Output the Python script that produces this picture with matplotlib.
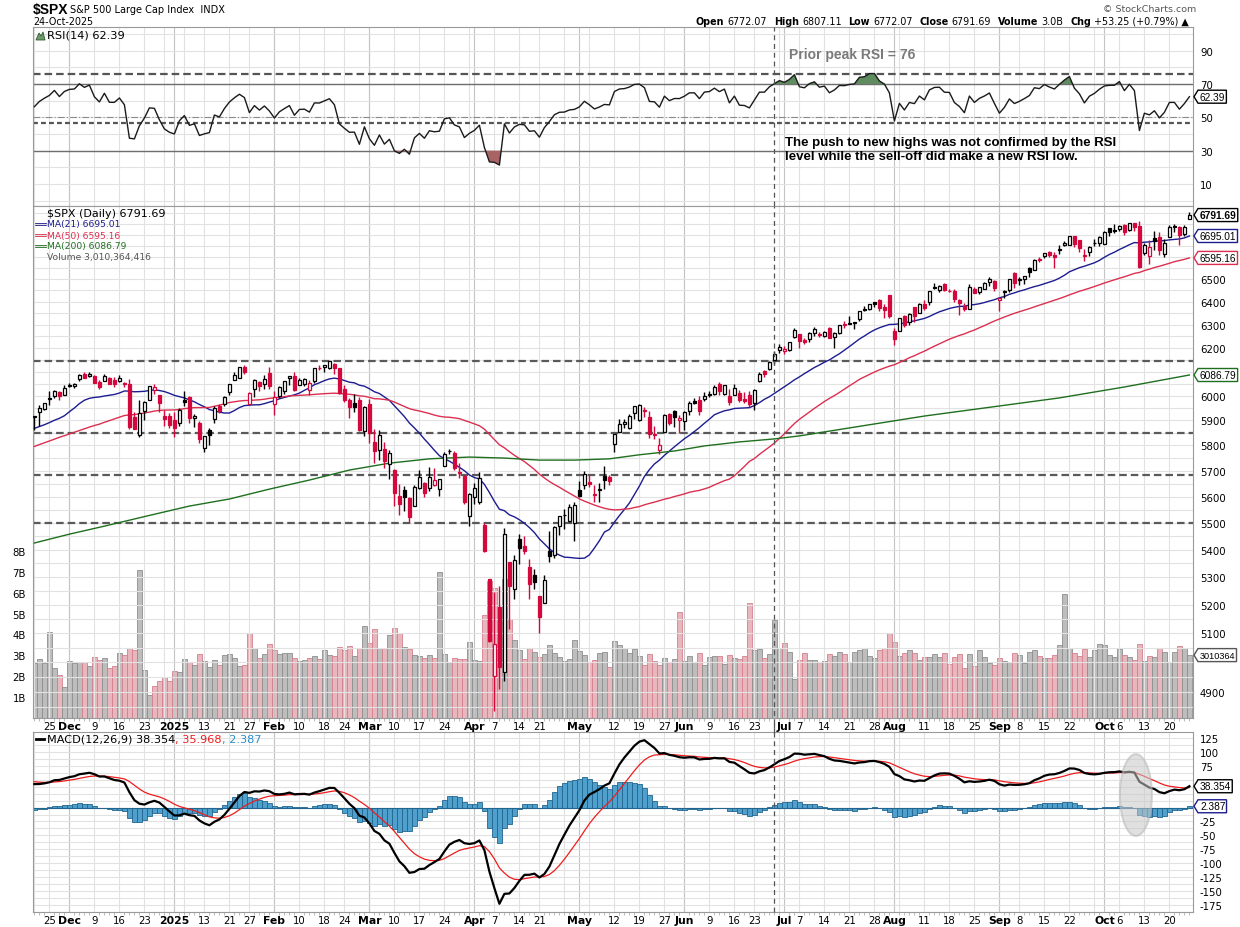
import numpy as np
import pandas as pd
import matplotlib
matplotlib.use('Agg')
import matplotlib.pyplot as plt
from matplotlib.patches import Polygon, Ellipse, Rectangle
from matplotlib.lines import Line2D
from matplotlib.transforms import IdentityTransform
from matplotlib.ticker import FixedLocator, NullFormatter, NullLocator, FuncFormatter

# --- data: $SPX daily, 20-Nov-2024 .. 24-Oct-2025 ---
holidays = ['2024-11-28', '2024-12-25', '2025-01-01', '2025-01-09', '2025-01-20', '2025-02-17',
            '2025-04-18', '2025-05-26', '2025-06-19', '2025-07-04', '2025-09-01']
dates = pd.bdate_range('2024-11-20', '2025-10-24', freq='C', holidays=holidays)

opens = [
    5914, 5935, 5945, 5992, 6000, 6015, 6003,  # nov
    6040, 6042, 6069, 6089, 6082, 6083, 6058, 6060, 6074, 6068, 6063, 6052, 6048, 5913, 5843,
    5940, 5984, 6025, 6006, 5920, 5920,  # dec
    5904, 5891, 5982, 5994, 5910, 5890, 5789, 5860, 5905, 5958, 5969, 6015, 6068, 6076, 6121,
    5969, 6027, 6058, 6050, 6096,  # jan
    5969, 5998, 6021, 6073, 6083, 6047, 6050, 6026, 6061, 6115, 6121, 6118, 6134, 6114, 6027,
    5983, 5971, 5982, 5857,  # feb
    5968, 5812, 5781, 5785, 5726, 5705, 5603, 5624, 5594, 5563, 5635, 5654, 5633, 5646, 5631,
    5718, 5776, 5772, 5696, 5679, 5527,  # mar
    5598, 5581, 5492, 5292, 4953, 5194, 4966, 5353, 5255, 5441, 5412, 5335, 5306, 5232, 5207,
    5395, 5381, 5489, 5529, 5508, 5499,  # apr
    5626, 5645, 5656, 5606, 5626, 5680, 5675, 5807, 5854, 5887, 5869, 5929, 5902, 5944, 5915,
    5841, 5781, 5855, 5925, 5939, 5903,  # may
    5897, 5938, 5978, 5985, 5987, 6005, 6009, 6049, 6010, 6000, 6005, 6012, 5986, 6004, 5970,
    6061, 6104, 6112, 6151, 6193,  # jun
    6187, 6192, 6246, 6260, 6234, 6237, 6266, 6256, 6251, 6288, 6249, 6264, 6305, 6304, 6307,
    6325, 6369, 6370, 6397, 6409, 6375, 6428,  # jul
    6271, 6272, 6337, 6310, 6375, 6353, 6389, 6397, 6460, 6452, 6478, 6446, 6447, 6407, 6381,
    6370, 6458, 6441, 6457, 6487, 6493,  # aug
    6407, 6443, 6451, 6527, 6499, 6500, 6550, 6543, 6590, 6603, 6623, 6609, 6636, 6654, 6652,
    6694, 6675, 6606, 6622, 6662, 6662,  # sep
    6660, 6731, 6722, 6729, 6745, 6723, 6753, 6739, 6619, 6605, 6685, 6689, 6613, 6690, 6736,
    6736, 6703, 6772.07,  # oct
]
highs = [
    5920, 5964, 5973, 6021, 6025, 6020, 6044,
    6053, 6052, 6089, 6100, 6099, 6088, 6065, 6092, 6079, 6078, 6085, 6058, 6071, 5936, 5982,
    5979, 6040, 6050, 6006, 5941, 5929,
    5935, 5950, 6022, 6001, 5928, 5899, 5837, 5871, 5960, 5965, 6001, 6051, 6100, 6118, 6128,
    6018, 6070, 6062, 6086, 6120,
    6022, 6042, 6062, 6084, 6101, 6073, 6076, 6064, 6116, 6127, 6129, 6147, 6135, 6115, 6044,
    5993, 6010, 5994, 5959,
    5987, 5866, 5860, 5812, 5783, 5706, 5649, 5642, 5597, 5645, 5704, 5655, 5716, 5711, 5670,
    5775, 5787, 5777, 5732, 5685, 5615,
    5651, 5696, 5500, 5292, 5246, 5267, 5481, 5353, 5381, 5460, 5450, 5367, 5328, 5232, 5309,
    5469, 5489, 5528, 5554, 5571, 5581,
    5659, 5700, 5683, 5643, 5654, 5720, 5684, 5845, 5906, 5906, 5925, 5959, 5969, 5954, 5939,
    5878, 5829, 5925, 5930, 5944, 5923,
    5938, 5981, 5990, 5999, 6017, 6021, 6044, 6059, 6045, 6027, 6050, 6023, 6018, 6019, 6028,
    6101, 6108, 6146, 6187, 6216,
    6211, 6228, 6285, 6262, 6242, 6268, 6290, 6269, 6271, 6292, 6270, 6300, 6315, 6336, 6310,
    6360, 6381, 6390, 6401, 6410, 6392, 6428,
    6288, 6330, 6344, 6350, 6379, 6396, 6406, 6447, 6481, 6474, 6481, 6458, 6457, 6410, 6393,
    6478, 6466, 6466, 6487, 6508, 6495,
    6420, 6450, 6502, 6533, 6508, 6513, 6555, 6590, 6600, 6619, 6626, 6623, 6656, 6672, 6695,
    6697, 6676, 6634, 6650, 6679, 6693,
    6718, 6733, 6750, 6745, 6749, 6753, 6756, 6765, 6664, 6677, 6720, 6714, 6680, 6744, 6752,
    6741, 6746, 6807.11,
]
lows = [
    5860, 5878, 5942, 5964, 5992, 5984, 6003,
    6035, 6033, 6062, 6075, 6080, 6053, 6028, 6060, 6051, 6035, 6059, 6036, 5867, 5866, 5833,
    5902, 5982, 6007, 5933, 5879, 5869,
    5834, 5877, 5960, 5890, 5874, 5809, 5773, 5802, 5890, 5931, 5960, 6006, 6064, 6074, 6089,
    5962, 5994, 6019, 6028, 6030,
    5923, 5991, 6007, 6044, 6020, 6045, 6042, 6003, 6054, 6107, 6100, 6112, 6089, 6008, 5977,
    5909, 5933, 5858, 5837,
    5810, 5732, 5743, 5711, 5667, 5565, 5529, 5547, 5505, 5563, 5629, 5597, 5622, 5640, 5603,
    5718, 5765, 5703, 5671, 5573, 5489,
    5572, 5573, 5391, 5069, 4835, 4910, 4937, 5116, 5221, 5349, 5386, 5221, 5255, 5101, 5207,
    5356, 5371, 5455, 5478, 5505, 5434,
    5597, 5629, 5639, 5578, 5579, 5628, 5644, 5773, 5853, 5868, 5867, 5907, 5896, 5915, 5830,
    5825, 5768, 5855, 5880, 5873, 5849,
    5861, 5921, 5967, 5921, 5978, 5994, 6004, 6002, 6004, 5963, 6005, 5977, 5971, 5953, 5943,
    6058, 6080, 6107, 6133, 6178,
    6174, 6187, 6241, 6202, 6217, 6225, 6253, 6246, 6246, 6243, 6201, 6261, 6286, 6303, 6282,
    6318, 6360, 6364, 6378, 6361, 6331, 6328,
    6212, 6272, 6289, 6301, 6313, 6349, 6364, 6387, 6457, 6442, 6447, 6441, 6401, 6343, 6361,
    6368, 6438, 6433, 6456, 6470, 6447,
    6360, 6417, 6444, 6460, 6475, 6480, 6510, 6539, 6577, 6597, 6598, 6552, 6614, 6649, 6652,
    6643, 6621, 6583, 6602, 6647, 6651,
    6657, 6693, 6708, 6717, 6700, 6716, 6716, 6551, 6610, 6569, 6632, 6607, 6599, 6690, 6714,
    6653, 6695, 6772.07,
]
closes = [
    5917.1, 5948.7, 5969.3, 5987.4, 6021.6, 5998.7, 6032.4,
    6047.2, 6049.9, 6086.5, 6075.1, 6090.3, 6052.9, 6034.9, 6084.2, 6051.3, 6051.1, 6074.1,
    6050.6, 5872.2, 5867.1, 5930.9, 5974.1, 6040.0, 6037.6, 5970.8, 5906.9, 5881.6,
    5868.6, 5942.5, 5975.4, 5909.0, 5918.3, 5827.0, 5836.2, 5842.9, 5949.9, 5937.3, 5996.7,
    6049.2, 6086.4, 6118.7, 6101.2, 6012.3, 6067.7, 6039.3, 6071.2, 6040.5,
    5994.6, 6037.9, 6061.5, 6083.6, 6026.0, 6066.4, 6068.5, 6052.0, 6115.1, 6114.6, 6129.6,
    6144.2, 6117.5, 6013.1, 5983.3, 5955.3, 5956.1, 5861.6, 5954.5,
    5849.7, 5778.2, 5842.6, 5738.5, 5770.2, 5614.6, 5572.1, 5599.3, 5521.5, 5638.9, 5675.1,
    5614.7, 5675.3, 5662.9, 5667.6, 5767.6, 5776.7, 5712.2, 5693.3, 5580.9, 5611.9,
    5633.1, 5671.0, 5396.5, 5074.1, 5062.3, 4982.8, 5456.9, 5268.1, 5363.4, 5406.0, 5396.6,
    5275.7, 5282.7, 5158.2, 5287.8, 5375.9, 5484.8, 5525.2, 5528.8, 5560.8, 5569.1,
    5604.1, 5686.7, 5650.4, 5606.9, 5631.3, 5663.9, 5659.9, 5844.2, 5886.6, 5892.6, 5916.9,
    5958.4, 5963.6, 5940.5, 5844.6, 5842.0, 5802.8, 5921.5, 5888.6, 5912.2, 5911.7,
    5935.9, 5970.4, 5970.8, 5939.3, 6000.4, 6005.9, 6038.8, 6022.2, 6045.3, 5977.0, 6033.1,
    5982.7, 5980.9, 5967.8, 6025.2, 6092.2, 6092.16, 6141.0, 6173.1, 6205.0,
    6198.0, 6227.4, 6279.4, 6230.0, 6225.5, 6263.3, 6280.5, 6259.8, 6268.6, 6243.8, 6263.7,
    6297.4, 6296.8, 6305.6, 6309.6, 6358.9, 6363.4, 6388.6, 6389.8, 6370.9, 6362.9, 6339.4,
    6238.0, 6329.9, 6299.2, 6345.1, 6340.0, 6389.5, 6373.5, 6445.8, 6466.6, 6468.5, 6449.8,
    6449.2, 6411.4, 6395.8, 6370.2, 6466.9, 6439.3, 6465.9, 6481.4, 6501.9, 6460.3,
    6415.5, 6448.3, 6502.1, 6481.5, 6495.2, 6512.6, 6532.0, 6587.5, 6584.3, 6615.3, 6606.8,
    6600.4, 6632.0, 6664.4, 6693.8, 6656.9, 6638.0, 6604.7, 6643.7, 6661.2, 6688.5,
    6711.2, 6715.4, 6715.8, 6740.3, 6714.6, 6753.7, 6735.1, 6552.5, 6654.7, 6644.3, 6671.1,
    6629.1, 6664.0, 6735.1, 6735.35, 6699.4, 6738.4, 6791.69,
]
# volume, billions of shares
volumes = [
    2.63, 2.82, 2.63, 4.11, 2.37, 2.08, 1.47,
    2.71, 2.63, 2.66, 2.66, 2.47, 2.92, 2.76, 2.87, 2.37, 2.47, 3.10, 3.00, 3.35, 3.24, 7.06,
    2.32, 1.11, 1.52, 1.79, 1.95, 1.79,
    2.23, 2.18, 2.82, 2.66, 2.52, 3.05, 2.71, 2.42, 2.76, 2.52, 3.00, 3.05, 2.87, 2.47, 2.53,
    4.06, 3.34, 2.87, 3.05, 3.53,
    3.26, 3.05, 3.10, 3.10, 2.87, 2.71, 2.76, 2.87, 2.97, 2.82, 3.26, 3.00, 2.97, 3.40, 3.26,
    3.45, 2.97, 3.35, 4.40,
    3.60, 4.27, 3.35, 3.35, 3.98, 4.32, 4.06, 3.40, 3.31, 3.00, 2.97, 2.87, 3.00, 2.87, 6.98,
    3.05, 2.66, 2.87, 2.82, 2.82, 3.63,
    2.76, 2.71, 4.94, 6.55, 6.20, 5.30, 6.65, 4.75, 3.74, 3.24, 2.82, 3.35, 3.15, 2.90, 3.05,
    3.48, 3.10, 2.94, 2.74, 2.82, 3.74,
    3.19, 3.00, 2.66, 2.76, 3.10, 3.15, 2.44, 3.68, 3.50, 3.34, 3.13, 3.30, 2.98, 2.53, 3.08,
    2.73, 2.53, 2.89, 2.66, 2.82, 5.08,
    2.74, 2.98, 2.69, 3.13, 2.53, 2.90, 2.98, 2.98, 2.60, 3.02, 2.89, 2.82, 2.98, 5.50, 3.24,
    3.29, 2.89, 3.05, 4.68, 3.34,
    3.58, 3.15, 1.89, 2.76, 3.13, 2.79, 2.79, 2.69, 2.73, 3.08, 2.98, 3.18, 3.08, 2.69, 3.15,
    3.24, 3.34, 2.98, 2.85, 3.23, 3.34, 4.05,
    3.63, 2.98, 3.13, 3.27, 3.13, 2.79, 2.90, 2.90, 3.08, 2.94, 3.13, 2.60, 2.94, 3.05, 2.40,
    3.05, 2.50, 3.23, 2.94, 2.61, 2.53,
    2.85, 2.74, 2.69, 3.13, 3.03, 2.65, 3.18, 3.23, 2.98, 2.89, 2.89, 3.03, 3.47, 5.95, 3.34,
    3.13, 2.98, 3.29, 2.90, 3.24, 3.53,
    3.47, 3.03, 2.90, 3.29, 3.03, 2.90, 2.79, 3.53, 2.74, 2.98, 2.94, 3.34, 3.15, 2.69, 3.15,
    3.44, 3.34, 3.01,
]
# closes from 3-Sep-2024 to 19-Nov-2024, only used to warm up MA/RSI/MACD
closes_prior = [
    5528.9, 5520.1, 5503.4, 5408.4, 5471.1, 5495.5, 5554.1, 5595.8, 5626.0, 5633.1, 5634.6,
    5618.3, 5713.6, 5702.6, 5718.6, 5732.9, 5722.3, 5745.4, 5738.2, 5762.5,
    5708.8, 5709.5, 5699.9, 5751.1, 5695.9, 5751.1, 5792.0, 5780.1, 5815.0, 5859.9, 5815.3,
    5842.5, 5841.5, 5864.7, 5854.0, 5851.2, 5797.4, 5809.9, 5808.1, 5823.5, 5832.9, 5813.7,
    5705.5,
    5728.8, 5712.7, 5782.8, 5929.0, 5973.1, 5995.5, 6001.4, 5984.0, 5985.4, 5949.2, 5870.6,
    5893.6, 5917.0,
]
# 200-day MA
ma200_dates = ['2024-11-20', '2024-12-02', '2024-12-11', '2024-12-23', '2025-01-07', '2025-01-21',
               '2025-01-31', '2025-02-12', '2025-02-25', '2025-03-07', '2025-03-19', '2025-03-31',
               '2025-04-09', '2025-04-21', '2025-04-30', '2025-05-09', '2025-05-19', '2025-05-29',
               '2025-06-06', '2025-06-17', '2025-06-27', '2025-07-07', '2025-07-21', '2025-08-11',
               '2025-09-02', '2025-09-18', '2025-10-07', '2025-10-24']
ma200_vals = [5425, 5458, 5488, 5524, 5564, 5591, 5629, 5664, 5703, 5730, 5747, 5754,
              5750, 5742, 5742, 5747, 5763, 5778, 5798, 5814, 5826, 5838, 5870, 5918,
              5959, 5992, 6037, 6086.79]

hlines_price = [6144, 5850, 5685, 5500]
hlines_rsi = [76, 46.8]
marker_date = '2025-06-27'

tick_dates = ['2024-11-25', '2024-12-02', '2024-12-09', '2024-12-16', '2024-12-23', '2025-01-02',
              '2025-01-13', '2025-01-21', '2025-01-27', '2025-02-03', '2025-02-10', '2025-02-18',
              '2025-02-24', '2025-03-03', '2025-03-10', '2025-03-17', '2025-03-24', '2025-04-01',
              '2025-04-07', '2025-04-14', '2025-04-21', '2025-05-01', '2025-05-12', '2025-05-19',
              '2025-05-27', '2025-06-02', '2025-06-09', '2025-06-16', '2025-06-23', '2025-07-01',
              '2025-07-07', '2025-07-14', '2025-07-21', '2025-07-28', '2025-08-01', '2025-08-11',
              '2025-08-18', '2025-08-25', '2025-09-02', '2025-09-08', '2025-09-15', '2025-09-22',
              '2025-10-01', '2025-10-06', '2025-10-13', '2025-10-20']
tick_labels = ['25', 'Dec', '9', '16', '23', '2025', '13', '21', '27', 'Feb', '10', '18', '24',
               'Mar', '10', '17', '24', 'Apr', '7', '14', '21', 'May', '12', '19', '27', 'Jun',
               '9', '16', '23', 'Jul', '7', '14', '21', '28', 'Aug', '11', '18', '25', 'Sep',
               '8', '15', '22', 'Oct', '6', '13', '20']
month_labels = {'Dec', '2025', 'Feb', 'Mar', 'Apr', 'May', 'Jun', 'Jul', 'Aug', 'Sep', 'Oct'}

N = len(dates)
assert len(opens) == len(highs) == len(lows) == len(closes) == len(volumes) == N, \
    (N, len(opens), len(highs), len(lows), len(closes), len(volumes))

# --- indicators ---
allc = pd.Series(closes_prior + closes, dtype=float)
ma21 = allc.rolling(21).mean().values[-N:]
ma50 = allc.rolling(50).mean().values[-N:]
d = allc.diff()
gain = d.clip(lower=0).ewm(alpha=1 / 14, adjust=False).mean()
loss = (-d.clip(upper=0)).ewm(alpha=1 / 14, adjust=False).mean()
rsi = (100 - 100 / (1 + gain / loss)).values[-N:]
macd_full = allc.ewm(span=12, adjust=False).mean() - allc.ewm(span=26, adjust=False).mean()
sig_full = macd_full.ewm(span=9, adjust=False).mean()
macd = macd_full.values[-N:]
sig = sig_full.values[-N:]
hist = macd - sig

# --- look ---
RED = '#d3083c'
NAVY = '#1c1c90'
MA50C = '#dc2f50'
GRN = '#1f6f1f'
GRID = '#e2e2e2'
GRID_M = '#c4c4c4'
SPINE = '#9a9a9a'
W, H = 1240, 928
plt.rcParams['font.family'] = ['DejaVu Sans']

fig = plt.figure(figsize=(W / 100, H / 100), dpi=100)
renderer = fig.canvas.get_renderer()


def fx(v):
    return v / W


def fy(v):
    return 1 - v / H


def panel(top, bottom):
    return fig.add_axes([fx(33), fy(bottom), (1193 - 33) / W, (bottom - top) / H])


x = np.arange(N)
xi = {dt: i for i, dt in enumerate(dates)}
tick_pos = [xi[pd.Timestamp(t)] for t in tick_dates]
week_starts = [i for i in range(N) if i == 0 or dates[i].weekday() <= dates[i - 1].weekday()]
month_starts = [i for i in range(1, N) if dates[i].month != dates[i - 1].month]
mk = xi[pd.Timestamp(marker_date)]


def setup_x(ax, labels):
    ax.set_xlim(-0.28, N - 0.28)
    for i in week_starts:
        ax.axvline(i, color=GRID, lw=0.8, zorder=0)
    for i in month_starts:
        ax.axvline(i, color=GRID_M, lw=0.8, zorder=0)
    ax.set_xticks(tick_pos)
    ax.set_xticks(x, minor=True)
    if labels:
        ax.set_xticklabels(tick_labels, fontsize=7.3)
        for t in ax.get_xticklabels():
            if t.get_text() in month_labels:
                t.set_fontweight('bold')
                t.set_fontsize(7.8)
    else:
        ax.set_xticklabels([])
    ax.tick_params(axis='x', which='major', length=0, pad=2)
    ax.tick_params(axis='x', which='minor', length=2, color='#b0b0b0')
    for s in ax.spines.values():
        s.set_color(SPINE)
        s.set_linewidth(0.8)
    ax.yaxis.tick_right()
    ax.tick_params(axis='y', which='both', length=0, pad=5, labelsize=7.3)


ax_rsi = panel(28, 207)
ax_vol = panel(207, 719)
ax_px = panel(207, 719)
ax_macd = panel(733, 913)
ax_vol.set_zorder(1)
ax_px.set_zorder(2)
ax_px.set_facecolor('none')

# --- RSI panel ---
setup_x(ax_rsi, False)
ax_rsi.set_ylim(-3.2, 104.2)
ax_rsi.yaxis.set_major_locator(FixedLocator([10, 30, 50, 70, 90]))
for v in range(0, 101, 10):
    ax_rsi.axhline(v, color=GRID, lw=0.8, zorder=0)
ax_rsi.axhline(70, color='#6e6e6e', lw=1.0, zorder=1)
ax_rsi.axhline(30, color='#6e6e6e', lw=1.0, zorder=1)
ax_rsi.axhline(50, color='#8a8a8a', lw=0.8, ls=(0, (6, 2, 1, 2)), zorder=1)
ax_rsi.axhline(hlines_rsi[0], color='#555555', lw=1.6, ls=(0, (3.4, 1.8)), zorder=2)
ax_rsi.axhline(hlines_rsi[1], color='#555555', lw=1.6, ls=(0, (2.2, 1.4)), zorder=2)
ax_rsi.fill_between(x, rsi, 70, where=rsi > 70, interpolate=True, color='#5f8c5f', lw=0, zorder=2)
ax_rsi.fill_between(x, rsi, 30, where=rsi < 30, interpolate=True, color='#a86464', lw=0, zorder=2)
ax_rsi.plot(x, rsi, color='#1a1a1a', lw=1.0, zorder=3)
ax_rsi.axvline(mk, color='#555555', lw=0.9, ls=(0, (4, 3)), zorder=4)

# --- volume underlay ---
up_day = np.array(closes) >= np.r_[closes_prior[-1], closes[:-1]]
ax_vol.set_xlim(-0.28, N - 0.28)
ax_vol.set_ylim(0, 24.5)
ax_vol.bar(x, volumes, width=0.94, color=np.where(up_day, '#bdbdbd', '#e8b7bd'),
           edgecolor=np.where(up_day, '#8e8e8e', '#d4808e'), lw=0.6, zorder=2)
ax_vol.set_yticks(range(1, 9))
ax_vol.set_yticklabels([f'{v}B' for v in range(1, 9)], fontsize=7.3)
ax_vol.tick_params(axis='y', length=0, pad=5)
ax_vol.set_xticks([])
for s in ax_vol.spines.values():
    s.set_visible(False)

# --- price panel ---
setup_x(ax_px, True)
ax_px.set_yscale('log')
ax_px.set_ylim(4812, 6834)
ax_px.yaxis.set_major_locator(FixedLocator(list(range(4900, 6801, 100))))
ax_px.yaxis.set_minor_locator(NullLocator())
ax_px.yaxis.set_minor_formatter(NullFormatter())
for v in range(4850, 6851, 50):
    ax_px.axhline(v, color=GRID, lw=0.8, zorder=0)
for lv in hlines_price:
    ax_px.axhline(lv, color='#5a5a5a', lw=1.6, ls=(0, (3.4, 1.8)), zorder=2)

o, hi, lo, c = (np.array(a, dtype=float) for a in (opens, highs, lows, closes))
col = np.where(up_day, '#000000', RED)
hollow = c >= o
body_lo = np.minimum(o, c)
body_h = np.maximum(np.abs(c - o), c * 0.0005)
ax_px.vlines(x, lo, hi, colors=col, lw=1.0, zorder=4)
ax_px.bar(x, body_h, bottom=body_lo, width=0.7, color=np.where(hollow, '#ffffff', col),
          edgecolor=col, lw=0.9, zorder=5)

ax_px.plot(x, ma21, color=NAVY, lw=1.0, zorder=3)
ax_px.plot(x, ma50, color=MA50C, lw=1.0, zorder=3)
ax_px.plot([xi[pd.Timestamp(t)] for t in ma200_dates], ma200_vals, color=GRN, lw=1.0, zorder=3)
ax_px.axvline(mk, ymin=-0.03, ymax=1, clip_on=False, color='#555555', lw=0.9, ls=(0, (4, 3)),
              zorder=6)

# --- MACD panel ---
setup_x(ax_macd, True)
ax_macd.set_ylim(-187.6, 135.8)
ax_macd.yaxis.set_major_locator(FixedLocator([v for v in range(-175, 126, 25)]))
for v in np.arange(-187.5, 136, 12.5):
    ax_macd.axhline(v, color=GRID, lw=0.8, zorder=0)
ax_macd.bar(x, hist, width=1.0, color='#4fa0cc', edgecolor='#22658f', lw=0.6, zorder=2)
ax_macd.axhline(0, color='#22658f', lw=0.8, zorder=2)
ax_macd.plot(x, sig, color='#ee1c1c', lw=0.9, zorder=3)
ax_macd.plot(x, macd, color='#000000', lw=1.6, zorder=4)
ax_macd.add_patch(Ellipse((220.3, 22.6), 6.4, 147, facecolor='#c8c8c8', edgecolor='#b8b8b8',
                          lw=1.5, alpha=0.55, zorder=5))
ax_macd.axvline(mk, ymin=0, ymax=1.08, clip_on=False, color='#555555', lw=0.9, ls=(0, (4, 3)),
                zorder=6)


# --- value tags on the right ---
tag_rows = {}


def tag(ax, yval, text, edge, bold=False, size=7.3):
    _, yp = ax.transData.transform((0, yval))
    tag_rows.setdefault(id(ax), []).append(yp)
    t = fig.text(fx(1200), yp / H, text, fontsize=size, fontweight='bold' if bold else 'normal',
                 va='center', ha='left', zorder=11, family='Liberation Sans')
    w = t.get_window_extent(renderer).width + 3
    hh = 6.5
    pts = [(1194, yp), (1198, yp + hh), (1198 + w, yp + hh), (1198 + w, yp - hh), (1198, yp - hh)]
    fig.add_artist(Polygon(pts, closed=True, transform=IdentityTransform(), facecolor='white',
                           edgecolor=edge, lw=1.0, zorder=10))


tag(ax_rsi, rsi[-1], '62.39', '#000000')
tag(ax_px, ma200_vals[-1], '6086.79', GRN)
tag(ax_vol, volumes[-1], '3010364', '#555555', size=6.6)
tag(ax_px, ma50[-1], '6595.16', MA50C)
tag(ax_px, ma21[-1], '6695.01', NAVY)
tag(ax_px, closes[-1], '6791.69', '#000000', bold=True)
tag(ax_macd, hist[-1], '2.387', NAVY)
tag(ax_macd, macd[-1], '38.354', '#000000')
vol_tag_y = tag_rows[id(ax_vol)]


def hide_near_tags(ax, extra=()):
    rows = tag_rows.get(id(ax), []) + list(extra)

    def fmt(v, _):
        yp = ax.transData.transform((0, v))[1]
        if any(abs(yp - r) < 9 for r in rows):
            return ''
        return f'{v:g}'
    ax.yaxis.set_major_formatter(FuncFormatter(fmt))


hide_near_tags(ax_rsi)
hide_near_tags(ax_px, vol_tag_y)
hide_near_tags(ax_macd)


def run_text(x0, ypix, parts, size, align='left'):
    items = []
    for s, weight, color, gap in parts:
        t = fig.text(0, fy(ypix), s, fontsize=size, fontweight=weight, color=color, va='center')
        items.append((t, t.get_window_extent(renderer).width, gap))
    total = sum(w + g for _, w, g in items)
    xx = x0 - total if align == 'right' else x0
    for t, w, g in items:
        t.set_x(fx(xx))
        xx += w + g


# --- header ---
fig.text(fx(33), fy(10), '$SPX', fontsize=10, fontweight='bold', va='center', family='Liberation Sans')
fig.text(fx(70), fy(10), 'S&P 500 Large Cap Index  INDX', fontsize=7.0, va='center')
fig.text(fx(33), fy(22), '24-Oct-2025', fontsize=6.9, va='center')
fig.text(fx(1196), fy(9), '\u00a9 StockCharts.com', fontsize=6.8, color='#555555', va='center', ha='right')
B, Nn = 'bold', 'normal'
run_text(1189, 22, [('Open', B, 'k', 3), ('6772.07', Nn, 'k', 7), ('High', B, 'k', 3), ('6807.11', Nn, 'k', 7),
                    ('Low', B, 'k', 3), ('6772.07', Nn, 'k', 7), ('Close', B, 'k', 3), ('6791.69', Nn, 'k', 7),
                    ('Volume', B, 'k', 3), ('3.0B', Nn, 'k', 7), ('Chg', B, 'k', 3),
                    ('+53.25 (+0.79%) \u25b2', Nn, 'k', 0)], 6.9, align='right')

# --- panel legends ---
fig.add_artist(Polygon([(36, H - 41), (39, H - 34), (41, H - 37), (43, H - 33), (45, H - 41)],
                       closed=True, transform=IdentityTransform(), facecolor='#6f9a6f',
                       edgecolor='#2f5a2f', lw=0.6))
fig.text(fx(47), fy(36), 'RSI(14) 62.39', fontsize=8.2, va='center')

for k, xx in enumerate([36.5, 39.5, 42.5]):
    fig.add_artist(Rectangle((xx, H - 217 + k % 2), 1.8, 6 - k % 2 * 2, transform=IdentityTransform(),
                             facecolor='k', edgecolor='k', lw=0))
fig.text(fx(47), fy(214), '$SPX (Daily) 6791.69', fontsize=8.0, va='center')
for yy, label, cc in [(225, 'MA(21) 6695.01', NAVY), (236, 'MA(50) 6595.16', MA50C),
                      (247, 'MA(200) 6086.79', GRN)]:
    fig.add_artist(Line2D([36, 45], [H - yy, H - yy], transform=IdentityTransform(), color=cc, lw=2))
    fig.text(fx(47), fy(yy), label, fontsize=6.6, color=cc, va='center')
for k, hh in enumerate([5, 7, 6, 8]):
    fig.add_artist(Rectangle((36 + k * 2.2, H - 262), 1.5, hh, transform=IdentityTransform(),
                             facecolor='#777777', lw=0))
fig.text(fx(47), fy(258), 'Volume 3,010,364,416', fontsize=6.6, color='#555555', va='center')

fig.add_artist(Line2D([36, 44], [H - 740, H - 740], transform=IdentityTransform(), color='k', lw=2))
run_text(47, 740, [('MACD(12,26,9) 38.354', Nn, 'k', 0), (', 35.968', Nn, '#ee1c1c', 0),
                   (', 2.387', Nn, '#2a90c8', 0)], 8.1)

# --- annotations ---
fig.text(fx(789), fy(55), 'Prior peak RSI = 76', fontsize=10, fontweight='bold', color='#7a7a7a',
         va='center', family='Liberation Sans')
fig.text(fx(785), fy(150), 'The push to new highs was not confirmed by the RSI\n'
         'level while the sell-off did make a new RSI low.', fontsize=9.5, fontweight='bold',
         va='center', linespacing=1.2, family='Liberation Sans')

fig.savefig('out.png', dpi=100)
